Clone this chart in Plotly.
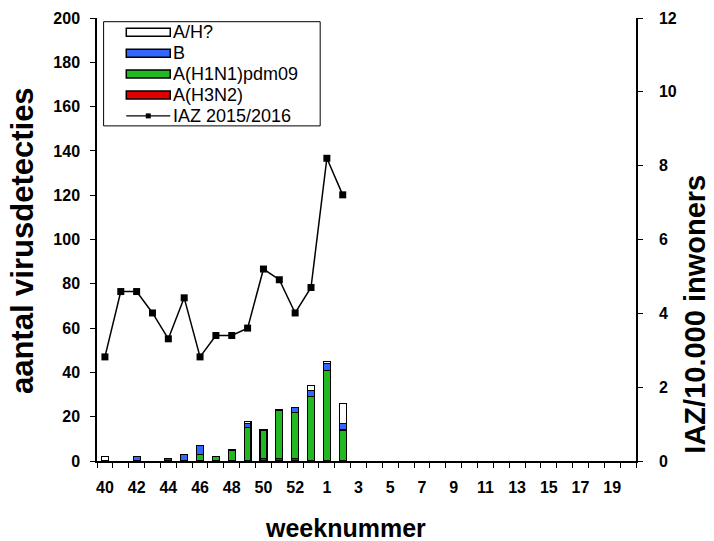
import plotly.graph_objects as go

weeks = [40, 41, 42, 43, 44, 45, 46, 47, 48, 49, 50, 51, 52, 53,
         1, 2, 3, 4, 5, 6, 7, 8, 9, 10, 11, 12, 13, 14, 15, 16, 17, 18, 19, 20]

# stacked bar series (None = no detections)
h3n2 = [None, None, None, None, 1, None, None, None, None, None, 1, 1, 1, None,
        None, None] + [None] * 18
h1n1 = [None, None, None, None, None, None, 3, 2, 5, 15, 13, 22, 21, 29,
        41, 14] + [None] * 18
b_virus = [None, None, 2, None, None, 3, 4, None, None, 2, None, None, 2, 3,
           3, 3] + [None] * 18
a_h_unknown = [2, None, None, None, None, None, None, None, None, 1, None, None, None, 2,
               1, 9] + [None] * 18

iaz = [2.82, 4.59, 4.59, 4.01, 3.31, 4.42, 2.82, 3.40, 3.40, 3.60, 5.20, 4.91, 4.01, 4.70,
       8.20, 7.21] + [None] * 18

left_ticks = [0, 20, 40, 60, 80, 100, 120, 140, 160, 180, 200]
right_ticks = [0, 2, 4, 6, 8, 10, 12]

FONT = "Liberation Sans, Arial, sans-serif"
idx = list(range(len(weeks)))
label_idx = idx[0:33:2]
label_txt = ["<b>%d</b>" % weeks[i] for i in label_idx]

# stacking order bottom -> top
series = [
    ("A(H3N2)", h3n2, "#e00000"),
    ("A(H1N1)pdm09", h1n1, "#22b822"),
    ("B", b_virus, "#3366ff"),
    ("A/H?", a_h_unknown, "#ffffff"),
]
line_name = "IAZ 2015/2016"

fig = go.Figure()
bar_line = dict(color="black", width=1.2)
for name, vals, col in series:
    fig.add_trace(go.Bar(x=idx, y=vals, name=name, width=0.44,
                         marker=dict(color=col, line=bar_line),
                         showlegend=False, yaxis="y"))

fig.add_trace(go.Scatter(x=idx, y=iaz, name=line_name, mode="lines+markers",
                         line=dict(color="black", width=1.5),
                         marker=dict(symbol="square", size=7, color="black"),
                         showlegend=False, yaxis="y2"))

W, H = 714, 541
px0, px1, py0, py1 = 96.7, 636.0, 18.0, 461.5   # plot area in pixels

tickfont = dict(family=FONT, size=16, color="black")
fig.update_layout(
    width=W, height=H,
    margin=dict(l=px0, r=W - px1, t=py0, b=H - py1, autoexpand=False),
    paper_bgcolor="white", plot_bgcolor="white",
    barmode="stack",
    font=dict(family=FONT, color="black"),
    showlegend=False,
    xaxis=dict(range=[-0.5, 33.5], showline=True, linecolor="black", linewidth=1.5,
               showgrid=False, zeroline=False, automargin=False,
               tickmode="array", tickvals=label_idx, ticktext=label_txt,
               ticks="outside", ticklen=0, tickcolor="black", tickfont=tickfont,
               ticklabelstandoff=11,
               minor=dict(ticks="outside", tickmode="linear", tick0=-0.5, dtick=1,
                          ticklen=5, tickwidth=1, tickcolor="black")),
    yaxis=dict(range=[0, 200], showline=True, linecolor="black", linewidth=1.5,
               showgrid=False, zeroline=False, automargin=False,
               tickmode="array", tickvals=left_ticks,
               ticktext=["<b>%d</b>" % v for v in left_ticks],
               ticks="outside", ticklen=5, tickwidth=1, tickcolor="black",
               tickfont=tickfont, ticklabelstandoff=7),
    yaxis2=dict(range=[0, 12], overlaying="y", side="right", anchor="x",
                showline=True, linecolor="black", linewidth=1.5,
                showgrid=False, zeroline=False, automargin=False,
                tickmode="array", tickvals=right_ticks,
                ticktext=["<b>%d</b>" % v for v in right_ticks],
                ticks="outside", ticklen=5, tickwidth=1, tickcolor="black",
                tickfont=tickfont, ticklabelstandoff=13),
)

def fx(p):
    return (p - px0) / (px1 - px0)
def fy(p):
    return (py1 - p) / (py1 - py0)

# ---- legend box (drawn as shapes + text, matching the reference layout) ----
fig.add_shape(type="rect", xref="paper", yref="paper",
              x0=fx(103.3), x1=fx(320), y0=fy(126), y1=fy(21.7),
              line=dict(color="black", width=1), fillcolor="white", layer="above")
legend_rows = list(reversed(series)) + [(line_name, None, None)]
row_y = [32.3, 53.3, 74.0, 95.0, 116.0]
for (name, _, col), ry in zip(legend_rows, row_y):
    if col is not None:
        fig.add_shape(type="rect", xref="paper", yref="paper",
                      x0=fx(126), x1=fx(170), y0=fy(ry + 4), y1=fy(ry - 4),
                      line=dict(color="black", width=1.5), fillcolor=col, layer="above")
    else:
        fig.add_shape(type="line", xref="paper", yref="paper",
                      x0=fx(126), x1=fx(170), y0=fy(ry), y1=fy(ry),
                      line=dict(color="black", width=1.2), layer="above")
        fig.add_shape(type="rect", xref="paper", yref="paper",
                      x0=fx(145.5), x1=fx(150.5), y0=fy(ry + 2.5), y1=fy(ry - 2.5),
                      line=dict(color="black", width=0), fillcolor="black", layer="above")
    fig.add_annotation(text=name, xref="paper", yref="paper", x=fx(171), y=fy(ry),
                       xanchor="left", yanchor="middle", showarrow=False,
                       font=dict(family=FONT, size=18, color="black"))

# ---- axis titles ----
fig.add_annotation(text="<b>aantal virusdetecties</b>", xref="paper", yref="paper",
                   x=fx(22), y=fy(241), xanchor="center", yanchor="middle",
                   textangle=-90, showarrow=False,
                   font=dict(family=FONT, size=31, color="black"))
fig.add_annotation(text="<b>IAZ/10.000 inwoners</b>", xref="paper", yref="paper",
                   x=fx(695), y=fy(314), xanchor="center", yanchor="middle",
                   textangle=-90, showarrow=False,
                   font=dict(family=FONT, size=29, color="black"))
fig.add_annotation(text="<b>weeknummer</b>", xref="paper", yref="paper",
                   x=fx(345), y=fy(529), xanchor="center", yanchor="middle",
                   showarrow=False,
                   font=dict(family=FONT, size=25, color="black"))

fig.write_html("out.html",
               config={"displayModeBar": False},
               post_script="document.body.style.margin='0';")
